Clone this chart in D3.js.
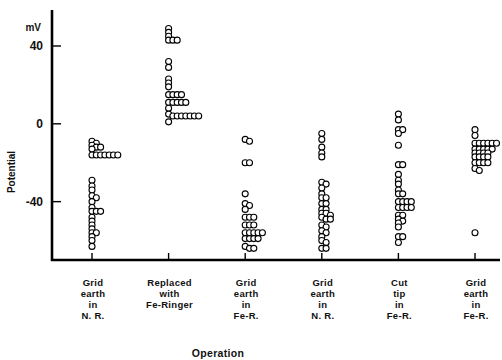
<!DOCTYPE html>
<html>
<head>
<meta charset="utf-8">
<script src="https://cdn.jsdelivr.net/npm/d3@7"></script>
<style>
  body { margin: 0; background: #fff; }
  svg { display: block; }
  text { font-family: "Liberation Sans", Arial, sans-serif; font-weight: bold; fill: #111; }
</style>
</head>
<body>
<div id="chart"></div>
<script>
// potentials (mV), one list per operation
const gridNR1 = [-9, -10, -11, -12, -12, -13, -16, -16, -16, -16, -16, -16, -16,
    -29, -32, -34, -37, -38, -40, -43, -45, -45, -45, -48, -50, -52, -54, -56, -56, -58, -60, -63]
const replacedFe = [49, 47, 45, 43, 43, 43, 32, 29, 23, 21, 19, 15, 15, 15, 15,
    11, 11, 11, 11, 11, 8, 5, 4, 4, 4, 4, 4, 4, 4, 1]
const gridFeR1 = [-8, -9, -20, -20, -36, -41, -42, -44, -48, -48, -48, -52, -52, -52,
    -56, -56, -56, -56, -56, -59, -59, -59, -59, -63, -64, -64]
const gridNR2 = [-5, -8, -12, -15, -17, -30, -31, -33, -36, -38, -38, -41, -41, -44, -44,
    -46, -46, -47, -48, -49, -49, -52, -53, -55, -56, -58, -60, -61, -64, -64]
const cutTipFeR = [5, 2, -3, -3, -5, -11, -21, -21, -26, -29, -31, -34, -36, -36,
    -40, -40, -40, -40, -43, -43, -43, -43, -47, -47, -49, -50, -51, -53, -58, -58, -61]
const gridFeR2 = [-3, -6, -10, -10, -10, -10, -10, -10, -13, -13, -13, -13, -13,
    -15, -15, -15, -15, -17, -17, -17, -17, -20, -20, -20, -20, -23, -24, -56]

const categories = ["g1", "g2", "g3", "g4", "g5", "g6"]
const catLabels = [
    ["Grid", "earth", "in", "N. R."],
    ["Replaced", "with", "Fe-Ringer"],
    ["Grid", "earth", "in", "Fe-R."],
    ["Grid", "earth", "in", "N. R."],
    ["Cut", "tip", "in", "Fe-R."],
    ["Grid", "earth", "in", "Fe-R."]
]
const seriesList = [gridNR1, replacedFe, gridFeR1, gridNR2, cutTipFeR, gridFeR2]
const yTicks = [40, 0, -40]

const width = 502, height = 360

let svg = d3.select("#chart").append("svg").attr("width", width).attr("height", height)

let x = d3.scalePoint().domain(categories).range([92, 475])
let y = d3.scaleLinear().domain([-70, 58.5]).range([260, 10])

// y axis
svg.append("line").attr("x1", 52).attr("x2", 52).attr("y1", 10).attr("y2", 261)
    .attr("stroke", "#000").attr("stroke-width", 2.6)
svg.append("g").selectAll("line").data(yTicks).enter().append("line")
    .attr("x1", 52).attr("x2", 61)
    .attr("y1", d => y(d)).attr("y2", d => y(d))
    .attr("stroke", "#000").attr("stroke-width", 1.4)
svg.append("g").selectAll("text").data(yTicks).enter().append("text")
    .attr("x", 43).attr("y", d => y(d)).attr("dy", "0.36em")
    .attr("text-anchor", "end").style("font-size", "12px")
    .text(d => d)
svg.append("text").attr("x", 41).attr("y", 31).attr("text-anchor", "end")
    .style("font-size", "10px").text("mV")
svg.append("text").attr("transform", "translate(15,172) rotate(-90)")
    .attr("text-anchor", "middle").style("font-size", "10px").text("Potential")

// x axis
svg.append("line").attr("x1", 51).attr("x2", 500).attr("y1", 260).attr("y2", 260)
    .attr("stroke", "#000").attr("stroke-width", 2.4)
svg.append("g").selectAll("line").data(categories).enter().append("line")
    .attr("x1", d => x(d)).attr("x2", d => x(d))
    .attr("y1", 253).attr("y2", 260)
    .attr("stroke", "#000").attr("stroke-width", 1.4)

categories.forEach((c, i) => {
    let t = svg.append("text").attr("text-anchor", "middle")
        .style("font-size", "9.5px").style("letter-spacing", "0.3px")
    catLabels[i].forEach((line, j) => {
        t.append("tspan").attr("x", x(c) + 1).attr("y", 286 + j * 11).text(line)
    })
})
svg.append("text").attr("x", 218).attr("y", 357).attr("text-anchor", "middle")
    .style("font-size", "10.5px").style("letter-spacing", "0.3px").text("Operation")

// dot plot: stack points to the right when they would overlap
const step = 4.3, minGap = 3.5
categories.forEach((c, i) => {
    let vals = seriesList[i].slice().sort((a, b) => b - a)
    let cols = []
    let pts = []
    vals.forEach(v => {
        let py = y(v)
        let k = 0
        while (cols[k] && cols[k].some(q => Math.abs(q - py) < minGap)) k++
        if (!cols[k]) cols[k] = []
        cols[k].push(py)
        pts.push({ v: v, k: k })
    })
    svg.append("g").selectAll("circle").data(pts).enter().append("circle")
        .attr("cx", d => x(c) + d.k * step)
        .attr("cy", d => y(d.v))
        .attr("r", 3)
        .attr("fill", "#fff")
        .attr("stroke", "#000")
        .attr("stroke-width", 1.1)
})
</script>
</body>
</html>
